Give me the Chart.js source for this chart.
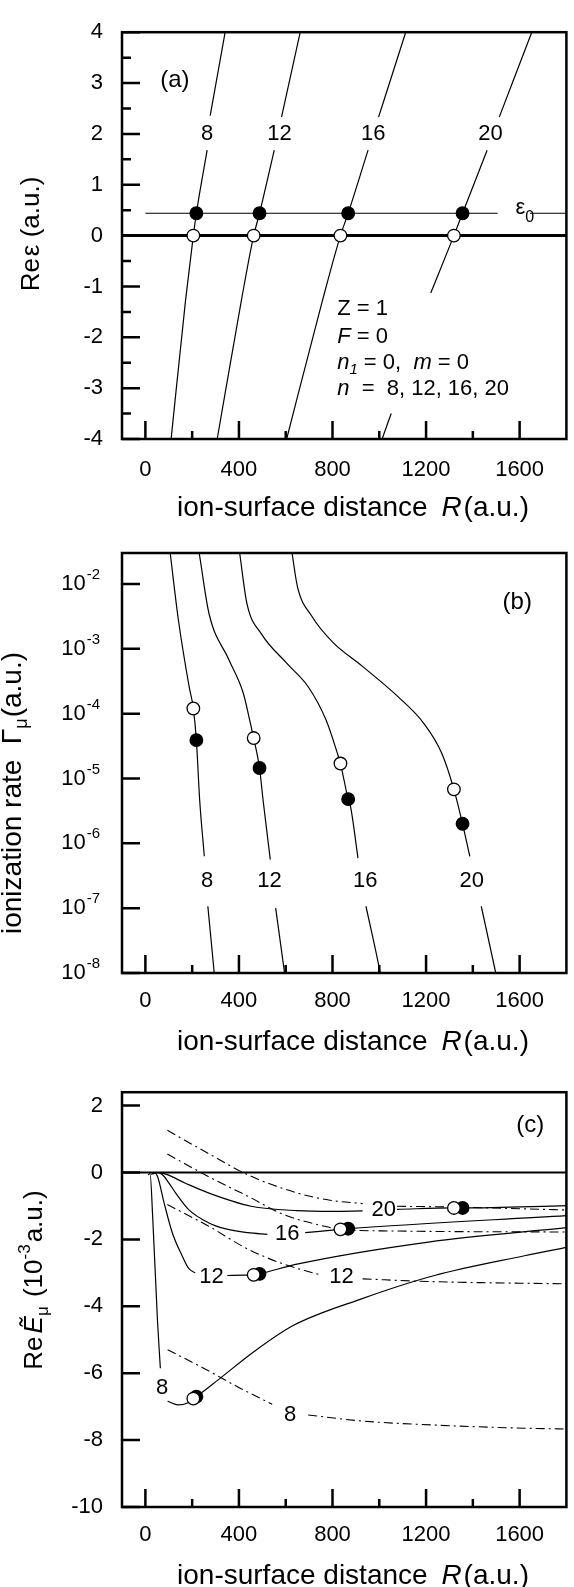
<!DOCTYPE html>
<html>
<head>
<meta charset="utf-8">
<script src="https://cdn.jsdelivr.net/npm/chart.js@4.4.0/dist/chart.umd.min.js"></script>
<style>
  html, body { margin: 0; padding: 0; background: #fff; }
  #wrap { position: relative; width: 574px; height: 1587px; overflow: hidden; }
  .pane { position: absolute; left: 0; width: 574px; }
</style>
</head>
<body>
<div id="wrap">
  <div class="pane" style="top:0;height:525px"><canvas id="chartA"></canvas></div>
  <div class="pane" style="top:525px;height:535px"><canvas id="chartB"></canvas></div>
  <div class="pane" style="top:1060px;height:527px"><canvas id="chartC"></canvas></div>
</div>
<script>
// ---- axes ----
const rTicks = [0, 400, 800, 1200, 1600];
const rMinor = [200, 600, 1000, 1400];
const aTicks = [-4, -3, -2, -1, 0, 1, 2, 3, 4];
const aMinor = [-3.5, -2.5, -1.5, -0.5, 0.5, 1.5, 2.5, 3.5];
const bExp = [-8, -7, -6, -5, -4, -3, -2];
const cTicks = [-10, -8, -6, -4, -2, 0, 2];

// ---- n = 8, 12, 16, 20 : crossing points ----
const nValues = [8, 12, 16, 20];
const rOpen = [205, 463, 834, 1319];     // Re eps = 0
const rFilled = [218, 488, 867, 1356];   // Re eps = eps0
const eps0 = 0.44;
const rateOpen = [1.2e-4, 4.2e-5, 1.7e-5, 6.8e-6];
const rateFilled = [3.9e-5, 1.45e-5, 4.8e-6, 2.0e-6];
const eOpen = [-6.76, -3.06, -1.70, -1.06];
const eFilled = [-6.70, -3.03, -1.68, -1.06];

// ---- (a) Re eps vs R   (null = gap in the line) ----
const a8 = [[110, -4], [172, -1.26], [205, 0], [218, 0.44], [264, 1.68], null, [277, 2.36], [341, 4]];
const a12 = [[307, -4], [411, -1.26], [463, 0], [488, 0.44], [551, 1.68], null, [582, 2.33], [662, 4]];
const a16 = [[604, -4], [758, -1.26], [834, 0], [867, 0.44], [952, 1.68], null, [997, 2.33], [1113, 4]];
const a20 = [[1012, -4], [1051, -3.5], null, [1220, -1.13], [1319, 0], [1356, 0.44], [1461, 1.68], null, [1513, 2.33], [1652, 4]];
const aZero = [[-100, 0], [1800, 0]];
const aEps0 = [[0, eps0], [1506, eps0], null, [1644, eps0], [1800, eps0]];

// ---- (b) ionization rate vs R ----
const b8 = [[106, 3e-2], [141, 2.8e-3], [187, 2.6e-4], [205, 1.2e-4], [218, 3.9e-5], [232, 4.7e-6], [252, 6.3e-7], null, [267, 1.07e-7], [295, 9.5e-9]];
const b12 = [[230, 3e-2], [272, 3.5e-3], [357, 6.8e-4], [418, 2.1e-4], [449, 7.1e-5], [463, 4.2e-5], [488, 1.45e-5], [503, 4.7e-6], [534, 5.6e-7], null, [557, 1.0e-7], [596, 9.5e-9]];
const b16 = [[403, 3e-2], [434, 5e-3], [496, 1.7e-3], [604, 6e-4], [696, 2.6e-4], [773, 7.9e-5], [820, 2.5e-5], [834, 1.7e-5], [867, 4.8e-6], [877, 3.7e-6], [909, 5.9e-7], null, [943, 1.07e-7], [997, 1.35e-8], [1005, 9.5e-9]];
const b20 = [[627, 3e-2], [650, 9.1e-3], [711, 3.2e-3], [804, 1.23e-3], [927, 5.4e-4], [1082, 1.8e-4], [1190, 7.1e-5], [1267, 2.45e-5], [1319, 6.8e-6], [1356, 2.0e-6], [1387, 6.3e-7], null, [1436, 1.07e-7], [1498, 1e-8]];

// ---- (c) Re E_mu (1e-3 a.u.) vs R ----
const c8 = [[12, -0.08], [20, -0.03], [31, -1.3], [52, -4.47], [64, -5.85], null, [95, -6.84], [141, -6.95], [180, -6.89], [205, -6.76], [218, -6.70], [311, -6.2], [465, -5.35], [630, -4.58], [927, -3.77], [1236, -3.08], [1621, -2.49], [1800, -2.24]];
const c12 = [[25, -0.06], [38, 0], [52, -0.12], [80, -0.91], [115, -1.80], [157, -2.49], [185, -2.87], [213, -3.0], null, [350, -3.08], [424, -3.07], [463, -3.06], [488, -3.03], [648, -2.74], [1210, -2.08], [1800, -1.65]];
const c16 = [[30, -0.05], [48, 0], [73, -0.07], [101, -0.32], [129, -0.61], [185, -1.11], [269, -1.50], [340, -1.68], [438, -1.80], [522, -1.85], null, [683, -1.80], [834, -1.70], [867, -1.68], [1800, -1.29]];
const c20 = [[35, -0.03], [55, 0], [87, -0.05], [171, -0.32], [269, -0.61], [452, -1.01], [648, -1.14], [800, -1.16], [929, -1.15], null, [1076, -1.1], [1319, -1.06], [1356, -1.06], [1800, -0.99]];
const d8 = [[95, -5.3], [249, -5.85], [403, -6.44], [542, -6.93], null, [696, -7.25], [927, -7.43], [1236, -7.55], [1544, -7.63], [1800, -7.67]];
const d12 = [[94, -0.96], [269, -1.6], [438, -2.29], [592, -2.74], [747, -3.06], null, [929, -3.18], [1210, -3.26], [1800, -3.33]];
const d16 = [[94, 0.55], [269, -0.12], [438, -0.71], [592, -1.26], [761, -1.60], [834, -1.70], [1069, -1.75], [1800, -1.78]];
const d20 = [[94, 1.26], [269, 0.57], [438, -0.07], [648, -0.61], [789, -0.83], [929, -0.93], null, [1076, -1.01], [1294, -1.03], [1800, -1.12]];
const cZero = [[-100, 0], [1800, 0]];

// ---- helpers ----
const FAM = '"Liberation Sans", Arial, Helvetica, sans-serif';
const font = (size, style) => (style ? style + ' ' : '') + size + 'px ' + FAM;

function segments(arr) {
  const out = [[]];
  arr.forEach(p => (p ? out[out.length - 1].push(p) : out.push([])));
  return out.filter(s => s.length > 1);
}

function curve(arr, extra) {
  return segments(arr).map(s => Object.assign({
    data: s.map(p => ({ x: p[0], y: p[1] })),
    showLine: true,
    borderColor: '#000',
    borderWidth: 1.2,
    pointRadius: 0,
    pointHoverRadius: 0,
    cubicInterpolationMode: 'monotone',
    order: 3,
  }, extra || {}));
}

function dots(rs, vs, color, order) {
  return {
    data: rs.map((r, i) => ({ x: r, y: vs[i] })),
    showLine: false,
    pointRadius: 6.3,
    pointHoverRadius: 6.3,
    pointBackgroundColor: color,
    pointBorderColor: '#000',
    pointBorderWidth: 1.3,
    order: order,
  };
}

function drawParts(ctx, parts, x, y, align) {
  let w = 0;
  parts.forEach(p => { ctx.font = font(p[1], p[2]); w += ctx.measureText(p[0]).width + (p[4] || 0); });
  let cx = align === 'center' ? x - w / 2 : (align === 'right' ? x - w : x);
  parts.forEach(p => {
    ctx.font = font(p[1], p[2]);
    ctx.fillText(p[0], cx, y + (p[3] || 0));
    cx += ctx.measureText(p[0]).width + (p[4] || 0);
  });
}

const xTitle = [['ion-surface distance ', 28, '', 0, 6], ['R', 28, 'italic', 0, 2], ['(a.u.)', 28]];

// text, frame and inward ticks for each panel
const deco = {
  chartA: {
    yMajor: aTicks, yMinor: aMinor,
    texts: [
      { at: [264, 2], parts: [['8', 22]] },
      { at: [573, 2], parts: [['12', 22]] },
      { at: [974, 2], parts: [['16', 22]] },
      { at: [1475, 2], parts: [['20', 22]] },
      { at: [126, 3.06], parts: [['(a)', 24]] },
      { at: [1582, 0.54], align: 'left', parts: [['ε', 22], ['0', 16, '', 9]] },
      { at: [820, -1.45], align: 'left', parts: [['Z = 1', 22]] },
      { at: [820, -2.0], align: 'left', parts: [['F', 22, 'italic'], [' = 0', 22]] },
      { at: [820, -2.51], align: 'left', parts: [['n', 22, 'italic'], ['1', 15, 'italic', 7], [' = 0,  ', 22], ['m', 22, 'italic'], [' = 0', 22]] },
      { at: [820, -3.02], align: 'left', parts: [['n', 22, 'italic'], ['  =  8, 12, 16, 20', 22]] },
      { px: [353, 508], parts: xTitle },
      { px: [32, 234], rot: true, parts: [['Re', 26, '', 0, 2], ['ε', 26], [' (a.u.)', 26]] },
    ],
  },
  chartB: {
    yMajor: bExp.map(k => Math.pow(10, k)), yMinor: [], expTicks: bExp,
    texts: [
      { at: [264, 2.6e-7], parts: [['8', 22]] },
      { at: [531, 2.6e-7], parts: [['12', 22]] },
      { at: [940, 2.6e-7], parts: [['16', 22]] },
      { at: [1395, 2.6e-7], parts: [['20', 22]] },
      { at: [1590, 5.2e-3], parts: [['(b)', 24]] },
      { px: [353, 517], parts: xTitle },
      { px: [13, 268], rot: true, parts: [['ionization rate  ', 28], ['Γ', 28], ['μ', 18, '', 9, 1], ['(a.u.)', 28]] },
    ],
  },
  chartC: {
    yMajor: cTicks, yMinor: [],
    texts: [
      { at: [1019, -1.11], parts: [['20', 22]] },
      { at: [606, -1.85], parts: [['16', 22]] },
      { at: [283, -3.13], parts: [['12', 22]] },
      { at: [838, -3.13], parts: [['12', 22]] },
      { at: [71, -6.43], parts: [['8', 22]] },
      { at: [619, -7.26], parts: [['8', 22]] },
      { at: [1645, 1.4], parts: [['(c)', 24]] },
      { px: [353, 516], parts: xTitle },
      { px: [35, 220], rot: true, parts: [['Re', 26, '', 0, 3], ['Ẽ', 26, 'italic'], ['μ', 17, '', 8, 2], [' (10', 26], ['-3', 17, '', -10, 2], ['a.u.)', 26]] },
    ],
  },
};

const decoPlugin = {
  id: 'deco',
  afterDatasetsDraw(chart) {
    const d = deco[chart.canvas.id];
    const { ctx, chartArea: a, scales: { x, y } } = chart;
    ctx.save();
    ctx.strokeStyle = '#000';
    ctx.fillStyle = '#000';
    ctx.lineWidth = 2.5;
    ctx.strokeRect(a.left, a.top, a.right - a.left, a.bottom - a.top);
    ctx.beginPath();
    rTicks.forEach(v => { const p = x.getPixelForValue(v); ctx.moveTo(p, a.bottom); ctx.lineTo(p, a.bottom - 18); });
    rMinor.forEach(v => { const p = x.getPixelForValue(v); ctx.moveTo(p, a.bottom); ctx.lineTo(p, a.bottom - 8); });
    d.yMajor.forEach(v => { const p = y.getPixelForValue(v); ctx.moveTo(a.left, p); ctx.lineTo(a.left + 18, p); });
    d.yMinor.forEach(v => { const p = y.getPixelForValue(v); ctx.moveTo(a.left, p); ctx.lineTo(a.left + 9, p); });
    ctx.stroke();

    ctx.textBaseline = 'middle';
    ctx.textAlign = 'left';
    d.texts.forEach(t => {
      const px = t.px ? t.px[0] : x.getPixelForValue(t.at[0]);
      const py = t.px ? t.px[1] : y.getPixelForValue(t.at[1]);
      if (t.rot) {
        ctx.save();
        ctx.translate(px, py);
        ctx.rotate(-Math.PI / 2);
        drawParts(ctx, t.parts, 0, 0, 'center');
        ctx.restore();
      } else {
        drawParts(ctx, t.parts, px, py, t.align || 'center');
      }
    });

    // 10^k labels on the log axis
    if (d.expTicks) {
      d.expTicks.forEach(k => {
        const py = y.getPixelForValue(Math.pow(10, k));
        drawParts(ctx, [['10', 22, '', 0, 1], [String(k), 15, '', -9]], 100, py, 'right');
      });
    }
    ctx.restore();
  },
};

function makeChart(id, datasets, yScale, padTop, xHeight, labelPad) {
  new Chart(document.getElementById(id), {
    type: 'scatter',
    data: { datasets: datasets },
    options: {
      responsive: true,
      maintainAspectRatio: false,
      animation: false,
      devicePixelRatio: 1,
      layout: { padding: { top: padTop, right: 1, left: 0, bottom: 0 } },
      plugins: { legend: { display: false }, tooltip: { enabled: false } },
      scales: {
        x: {
          type: 'linear', min: -100, max: 1800,
          grid: { display: false, drawTicks: false },
          border: { display: false },
          ticks: { color: '#000', font: { family: FAM, size: 22 }, padding: labelPad, maxRotation: 0, autoSkip: false, callback: v => String(v) },
          afterBuildTicks: s => { s.ticks = rTicks.map(v => ({ value: v })); },
          afterFit: s => { s.height = xHeight; },
        },
        y: Object.assign({
          grid: { display: false, drawTicks: false },
          border: { display: false },
          afterFit: s => { s.width = 122; },
        }, yScale),
      },
    },
    plugins: [decoPlugin],
  });
}

const yTickFont = { color: '#000', font: { family: FAM, size: 22 }, padding: 19, autoSkip: false, callback: v => String(v) };

// (a)
makeChart('chartA', [
  dots(rOpen, rOpen.map(() => 0), '#fff', 0),
  dots(rFilled, rFilled.map(() => eps0), '#000', 0),
  ...curve(aZero, { borderWidth: 3, order: 2 }),
  ...curve(aEps0, { order: 2 }),
  ...curve(a8), ...curve(a12), ...curve(a16), ...curve(a20),
], {
  type: 'linear', min: -4, max: 4,
  ticks: yTickFont,
  afterBuildTicks: s => { s.ticks = aTicks.map(v => ({ value: v })); },
}, 23, 86, 18);

// (b)
makeChart('chartB', [
  dots(rOpen, rateOpen, '#fff', 0),
  dots(rFilled, rateFilled, '#000', 0),
  ...curve(b8), ...curve(b12), ...curve(b16), ...curve(b20),
], {
  type: 'logarithmic', min: 1e-8, max: 0.03,
  ticks: { display: false },
  afterBuildTicks: s => { s.ticks = bExp.map(k => ({ value: Math.pow(10, k) })); },
}, 28, 87, 15);

// (c)
const dashDot = { borderDash: [9, 4, 2, 4], borderWidth: 1.1 };
makeChart('chartC', [
  dots(rOpen, eOpen, '#fff', 0),
  dots(rFilled, eFilled, '#000', 1),
  ...curve(cZero, { borderWidth: 2, order: 2 }),
  ...curve(c8), ...curve(c12), ...curve(c16), ...curve(c20),
  ...curve(d8, dashDot), ...curve(d12, dashDot), ...curve(d16, dashDot), ...curve(d20, dashDot),
], {
  type: 'linear', min: -10, max: 2.4,
  ticks: yTickFont,
  afterBuildTicks: s => { s.ticks = cTicks.map(v => ({ value: v })); },
}, 28, 80, 15);
</script>
</body>
</html>
